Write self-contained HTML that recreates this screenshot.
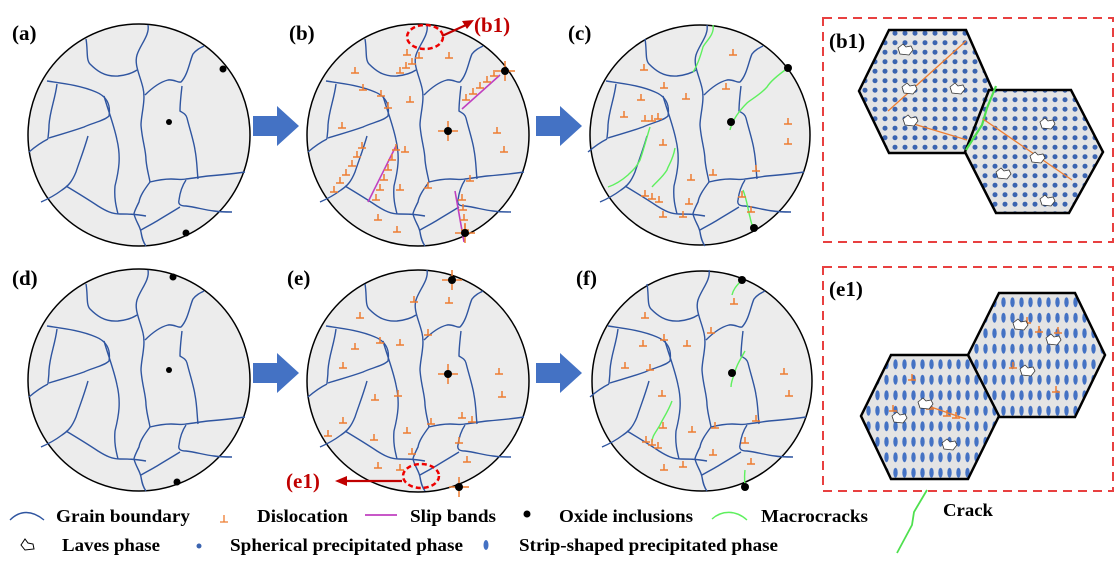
<!DOCTYPE html>
<html><head><meta charset="utf-8"><style>
html,body{margin:0;padding:0;background:#fff;}
svg{display:block;}
.lb{font-family:"Liberation Serif",serif;font-weight:bold;font-size:21px;}
.lg{font-family:"Liberation Serif",serif;font-weight:bold;font-size:18px;}
</style></head><body>
<svg width="1115" height="568" viewBox="0 0 1115 568" xmlns="http://www.w3.org/2000/svg">
<defs>
<g id="gb" fill="none" stroke="#2f55a0" stroke-width="1.4">
<path d="M148,25 C150,35 140,45 137,55 C134,65 140,75 143,88"/>
<path d="M86,39 C88,50 86,60 90,64 C96,70 104,77 118,76 C128,75 134,72 137,70"/>
<path d="M47,81 C60,83 80,85 96,92 C106,96 111,104 109,116 C104,121 92,123 84,127 C70,132 58,135 49,138"/>
<path d="M57,84 C55,100 50,110 49,125 C49,132 48,136 48,139"/>
<path d="M29,152 C36,146 42,142 48,139"/>
<path d="M104,96 C108,110 114,125 117,140 C121,157 119,170 115,186 C114,198 116,206 118,214"/>
<path d="M88,136 C84,150 80,160 76,172 C72,182 68,186 62,190 C54,196 48,199 41,202"/>
<path d="M66,186 C76,192 86,198 98,206 C106,211 112,214 120,214 C128,214 134,214 146,216"/>
<path d="M143,88 C146,100 141,115 141,125 C142,140 146,150 146,160 C147,170 149,176 150,182"/>
<path d="M145,95 C152,88 160,82 168,80 C174,79 178,83 181,82 C188,75 190,60 193,54 C196,50 200,48 204,46"/>
<path d="M182,86 C181,95 180,103 180,111 C183,113 186,114 187,118 C190,130 194,142 195,150 C197,160 197,170 198,179"/>
<path d="M150,182 C158,180 165,179 171,179 C178,179 182,180 186,179 C194,178 200,177 208,176 C220,175 232,174 245,172"/>
<path d="M150,182 C144,190 140,196 139,202 C136,208 134,212 134,214 C136,222 140,226 141,232 C142,238 143,242 146,246"/>
<path d="M186,180 C182,186 180,192 179,200 C178,204 180,206 186,206 C196,207 204,210 214,211 C220,212 226,212 232,212"/>
<path d="M141,230 C148,226 152,224 157,221 C165,216 172,212 180,207"/>
</g>
<path id="t" d="M-4,0 H4 M0,0 V-6" stroke="#ed7d31" stroke-width="1.5" fill="none"/>
<g id="star" stroke="#ed7d31" stroke-width="1.5"><path d="M-10,0 H10 M0,-10 V10"/></g>
<pattern id="dots" x="0" y="0" width="10" height="9.5" patternUnits="userSpaceOnUse"><rect width="10" height="9.5" fill="#e4e4e4"/><circle cx="5" cy="4.7" r="2.5" fill="#3b64b0"/></pattern>
<pattern id="ell" x="0" y="0" width="9" height="15.5" patternUnits="userSpaceOnUse"><rect width="9" height="15.5" fill="#e4e4e4"/><ellipse cx="4.5" cy="7.7" rx="2.2" ry="5" fill="#4472c4"/></pattern>
<path id="lav" d="M0,0 l5,-4 l3,3 l5,-1 l2,4 l-4,5 l-9,-1 z" fill="#fff" stroke="#333" stroke-width="0.8"/>
<path id="arr" d="M0,10 H24 V0 L46,20 L24,40 V30 H0 Z" fill="#4472c4"/>
</defs>

<text x="12" y="40" class="lb">(a)</text>
<text x="289" y="40" class="lb">(b)</text>
<text x="568" y="40" class="lb">(c)</text>
<text x="12" y="285" class="lb">(d)</text>
<text x="287" y="285" class="lb">(e)</text>
<text x="576" y="285" class="lb">(f)</text>

<use href="#arr" x="253" y="106"/>
<use href="#arr" x="536" y="106"/>
<use href="#arr" x="253" y="353"/>
<use href="#arr" x="536" y="353"/>

<circle cx="139" cy="135" r="111" fill="#ececec" stroke="#000" stroke-width="1.5"/>
<use href="#gb"/>
<circle cx="223" cy="69" r="3.5"/><circle cx="169" cy="122" r="3" /><circle cx="186" cy="233" r="3.5"/>

<circle cx="418" cy="135" r="111" fill="#ececec" stroke="#000" stroke-width="1.5"/>
<use href="#gb" transform="translate(279,0)"/>
<g stroke="#c040c0" stroke-width="1.6"><line x1="462" y1="109" x2="500" y2="75"/><line x1="368" y1="202" x2="396" y2="146"/><line x1="455" y1="191" x2="464" y2="242"/></g>
<g>
<use href="#t" x="466" y="100"/><use href="#t" x="473" y="94"/><use href="#t" x="480" y="88"/><use href="#t" x="487" y="82"/><use href="#t" x="494" y="76"/>
<use href="#t" x="334" y="192"/><use href="#t" x="340" y="183"/><use href="#t" x="346" y="175"/><use href="#t" x="352" y="166"/><use href="#t" x="357" y="157"/><use href="#t" x="362" y="148"/>
<use href="#t" x="376" y="200"/><use href="#t" x="380" y="190"/><use href="#t" x="384" y="180"/><use href="#t" x="388" y="170"/><use href="#t" x="392" y="160"/><use href="#t" x="396" y="150"/>
<use href="#t" x="462" y="200"/><use href="#t" x="463" y="210"/><use href="#t" x="464" y="220"/><use href="#t" x="465" y="230"/>
<use href="#t" x="400" y="73"/><use href="#t" x="406" y="68"/><use href="#t" x="412" y="64"/><use href="#t" x="419" y="58"/>
<use href="#t" x="407" y="55"/><use href="#t" x="449" y="58"/><use href="#t" x="410" y="102"/><use href="#t" x="388" y="108"/>
<use href="#t" x="381" y="96"/><use href="#t" x="342" y="128"/><use href="#t" x="355" y="73"/><use href="#t" x="405" y="152"/>
<use href="#t" x="400" y="190"/><use href="#t" x="428" y="188"/><use href="#t" x="378" y="220"/><use href="#t" x="397" y="232"/>
<use href="#t" x="497" y="133"/><use href="#t" x="504" y="152"/><use href="#t" x="470" y="181"/><use href="#t" x="363" y="90"/>
</g>
<use href="#star" x="448" y="131"/><use href="#star" x="505" y="71"/><use href="#star" x="465" y="233"/>
<circle cx="448" cy="131" r="4"/><circle cx="505" cy="71" r="4"/><circle cx="465" cy="233" r="4"/>
<ellipse cx="425" cy="37" rx="18" ry="12" fill="none" stroke="#e00" stroke-width="2.5" stroke-dasharray="5,3"/>
<line x1="442" y1="36" x2="466" y2="25" stroke="#c00000" stroke-width="2.2"/><path d="M474,20 L462,21 L467,29 Z" fill="#c00000"/>
<text x="474" y="32" class="lb" fill="#c00000">(b1)</text>

<circle cx="700" cy="135" r="110" fill="#ececec" stroke="#000" stroke-width="1.5"/>
<use href="#gb" transform="translate(559,0)"/>
<g stroke="#5ef05e" stroke-width="1.4" fill="none">
<path d="M713,25 C715,35 705,42 703,47 C700,58 697,66 693,72"/>
<path d="M788,68 C778,75 770,82 767,87 C760,95 750,100 747,103 C738,112 732,122 730,130"/>
<path d="M650,127 C646,140 643,152 640,160 C636,168 632,171 628,175 C620,182 614,185 608,187"/>
<path d="M675,148 C673,160 668,166 667,170 C662,178 656,182 652,187"/>
<path d="M743,190 C747,200 748,210 750,217 C751,222 752,225 753,227"/>
</g>
<use href="#t" x="733" y="55"/><use href="#t" x="641" y="100"/><use href="#t" x="686" y="99"/><use href="#t" x="663" y="145"/>
<use href="#t" x="726" y="89"/><use href="#t" x="664" y="88"/><use href="#t" x="645" y="121"/><use href="#t" x="652" y="121"/><use href="#t" x="658" y="119"/>
<use href="#t" x="742" y="197"/><use href="#t" x="751" y="212"/><use href="#t" x="713" y="175"/><use href="#t" x="689" y="204"/><use href="#t" x="756" y="171"/>
<use href="#t" x="645" y="196"/><use href="#t" x="652" y="199"/><use href="#t" x="659" y="202"/><use href="#t" x="663" y="217"/><use href="#t" x="683" y="217"/>
<use href="#t" x="691" y="180"/><use href="#t" x="788" y="124"/><use href="#t" x="788" y="144"/><use href="#t" x="644" y="70"/><use href="#t" x="624" y="117"/>
<circle cx="788" cy="68" r="4"/><circle cx="731" cy="122" r="4"/><circle cx="754" cy="228" r="4"/>

<circle cx="139" cy="380" r="111" fill="#ececec" stroke="#000" stroke-width="1.5"/>
<use href="#gb" transform="translate(0,245)"/>
<circle cx="173" cy="277" r="3.5"/><circle cx="169" cy="370" r="3"/><circle cx="177" cy="482" r="3.5"/>

<circle cx="418" cy="381" r="111" fill="#ececec" stroke="#000" stroke-width="1.5"/>
<use href="#gb" transform="translate(279,245)"/>
<g>
<use href="#t" x="449" y="303"/><use href="#t" x="414" y="302"/><use href="#t" x="360" y="318"/><use href="#t" x="380" y="343"/>
<use href="#t" x="355" y="349"/><use href="#t" x="400" y="345"/><use href="#t" x="343" y="368"/><use href="#t" x="375" y="400"/>
<use href="#t" x="398" y="396"/><use href="#t" x="407" y="433"/><use href="#t" x="431" y="424"/><use href="#t" x="472" y="422"/>
<use href="#t" x="459" y="443"/><use href="#t" x="374" y="440"/><use href="#t" x="328" y="436"/><use href="#t" x="343" y="423"/>
<use href="#t" x="378" y="468"/><use href="#t" x="400" y="470"/><use href="#t" x="467" y="462"/><use href="#t" x="499" y="374"/>
<use href="#t" x="502" y="397"/><use href="#t" x="428" y="335"/><use href="#t" x="412" y="454"/><use href="#t" x="462" y="418"/>
</g>
<use href="#star" x="452" y="280"/><use href="#star" x="448" y="374"/><use href="#star" x="459" y="487"/>
<circle cx="452" cy="280" r="4"/><circle cx="448" cy="374" r="4"/><circle cx="459" cy="487" r="4"/>
<ellipse cx="421" cy="476" rx="18" ry="12" fill="none" stroke="#e00" stroke-width="2.5" stroke-dasharray="5,3"/>
<line x1="402" y1="481" x2="345" y2="481" stroke="#c00000" stroke-width="2.2"/><path d="M335,481 L347,476 L347,486 Z" fill="#c00000"/>
<text x="286" y="488" class="lb" fill="#c00000">(e1)</text>

<circle cx="702" cy="381" r="110" fill="#ececec" stroke="#000" stroke-width="1.5"/>
<use href="#gb" transform="translate(561,245)"/>
<g stroke="#5ef05e" stroke-width="1.4" fill="none">
<path d="M742,280 C736,286 733,290 732,295"/>
<path d="M745,351 C740,360 736,366 734,375 C732,380 731,384 731,387"/>
<path d="M672,401 C668,412 662,420 660,425 C656,432 652,436 652,442"/>
<path d="M745,470 C744,478 745,484 745,487"/>
</g>
<use href="#t" x="734" y="304"/><use href="#t" x="645" y="318"/><use href="#t" x="664" y="340"/><use href="#t" x="687" y="346"/>
<use href="#t" x="643" y="346"/><use href="#t" x="625" y="368"/><use href="#t" x="650" y="370"/><use href="#t" x="662" y="396"/>
<use href="#t" x="692" y="432"/><use href="#t" x="713" y="455"/><use href="#t" x="715" y="428"/><use href="#t" x="756" y="421"/>
<use href="#t" x="745" y="443"/><use href="#t" x="751" y="464"/><use href="#t" x="784" y="374"/><use href="#t" x="789" y="396"/>
<use href="#t" x="646" y="442"/><use href="#t" x="652" y="445"/><use href="#t" x="658" y="448"/><use href="#t" x="664" y="470"/><use href="#t" x="683" y="467"/>
<use href="#t" x="711" y="333"/><use href="#t" x="663" y="428"/>
<circle cx="742" cy="280" r="4"/><circle cx="732" cy="373" r="4"/><circle cx="745" cy="487" r="4"/>

<rect x="823" y="18" width="290" height="224" fill="#fff" stroke="#e84040" stroke-width="2" stroke-dasharray="9,6"/>
<text x="829" y="48" class="lb">(b1)</text>
<polygon points="859,91 889,30 966,30 993,91 966,153 889,153" fill="url(#dots)" stroke="#000" stroke-width="2.5"/>
<polygon points="965,152 989,90 1071,90 1103,152 1069,213 996,213" fill="url(#dots)" stroke="#000" stroke-width="2.5"/>
<path d="M996,86 L987,108 L982,125 L966,150" stroke="#4fe04f" stroke-width="2.2" fill="none"/>
<g stroke="#ed7d31" stroke-width="1.3" fill="none"><line x1="888" y1="111" x2="966" y2="41"/><line x1="907" y1="122" x2="967" y2="140"/><line x1="983" y1="119" x2="1072" y2="180"/></g>
<use href="#lav" x="898" y="48"/><use href="#lav" x="902" y="87"/><use href="#lav" x="950" y="87"/><use href="#lav" x="903" y="119"/>
<use href="#lav" x="1040" y="122"/><use href="#lav" x="1030" y="156"/><use href="#lav" x="996" y="172"/><use href="#lav" x="1040" y="199"/>

<rect x="823" y="267" width="290" height="224" fill="#fff" stroke="#e84040" stroke-width="2" stroke-dasharray="9,6"/>
<text x="829" y="296" class="lb">(e1)</text>
<polygon points="968,355 999,293 1075,293 1105,355 1075,417 999,417" fill="url(#ell)" stroke="#000" stroke-width="2.5"/>
<polygon points="861,416 891,355 968,355 999,416 968,479 891,479" fill="url(#ell)" stroke="#000" stroke-width="2.5"/>
<g stroke="#ed7d31" stroke-width="1.3" fill="none"><line x1="925" y1="405" x2="966" y2="419"/></g>
<use href="#t" x="1027" y="323"/><use href="#t" x="1039" y="332"/><use href="#t" x="1058" y="333"/><use href="#t" x="1013" y="368"/><use href="#t" x="1056" y="392"/>
<use href="#t" x="912" y="380"/><use href="#t" x="893" y="411"/><use href="#t" x="930" y="409"/><use href="#t" x="947" y="416"/><use href="#t" x="956" y="418"/>
<use href="#lav" x="1013" y="323"/><use href="#lav" x="1046" y="338"/><use href="#lav" x="1020" y="369"/><use href="#lav" x="918" y="402"/><use href="#lav" x="892" y="416"/><use href="#lav" x="942" y="443"/>

<path d="M10,520 C20,510 32,510 44,520" stroke="#2f55a0" stroke-width="1.4" fill="none"/>
<text x="56" y="522" class="lg" textLength="134" lengthAdjust="spacingAndGlyphs">Grain boundary</text>
<path d="M220,522 H228 M224,522 V515" stroke="#ed7d31" stroke-width="1.3"/>
<text x="257" y="522" class="lg" textLength="91" lengthAdjust="spacingAndGlyphs">Dislocation</text>
<line x1="365" y1="515" x2="397" y2="515" stroke="#c040c0" stroke-width="1.8"/>
<text x="410" y="522" class="lg" textLength="86" lengthAdjust="spacingAndGlyphs">Slip bands</text>
<circle cx="527" cy="514" r="3.5"/>
<text x="559" y="522" class="lg" textLength="134" lengthAdjust="spacingAndGlyphs">Oxide inclusions</text>
<path d="M712,519 C722,510 736,510 747,520" stroke="#5ef05e" stroke-width="1.4" fill="none"/>
<text x="761" y="522" class="lg" textLength="107" lengthAdjust="spacingAndGlyphs">Macrocracks</text>
<path d="M21,545 l4,-6 l3,4 l5,1 l1,5 l-9,1 z" fill="#fff" stroke="#000" stroke-width="1"/>
<text x="62" y="551" class="lg" textLength="98" lengthAdjust="spacingAndGlyphs">Laves phase</text>
<circle cx="199" cy="546" r="2.5" fill="#3b64b0"/>
<text x="230" y="551" class="lg" textLength="233" lengthAdjust="spacingAndGlyphs">Spherical precipitated phase</text>
<ellipse cx="486" cy="545" rx="2.5" ry="5" fill="#4472c4"/>
<text x="519" y="551" class="lg" textLength="259" lengthAdjust="spacingAndGlyphs">Strip-shaped precipitated phase</text>
<text x="943" y="516" class="lg" textLength="50" lengthAdjust="spacingAndGlyphs">Crack</text>
<path d="M927,490 L914,512 L912,525 L897,553" stroke="#4fe04f" stroke-width="1.8" fill="none"/>
</svg>
</body></html>
